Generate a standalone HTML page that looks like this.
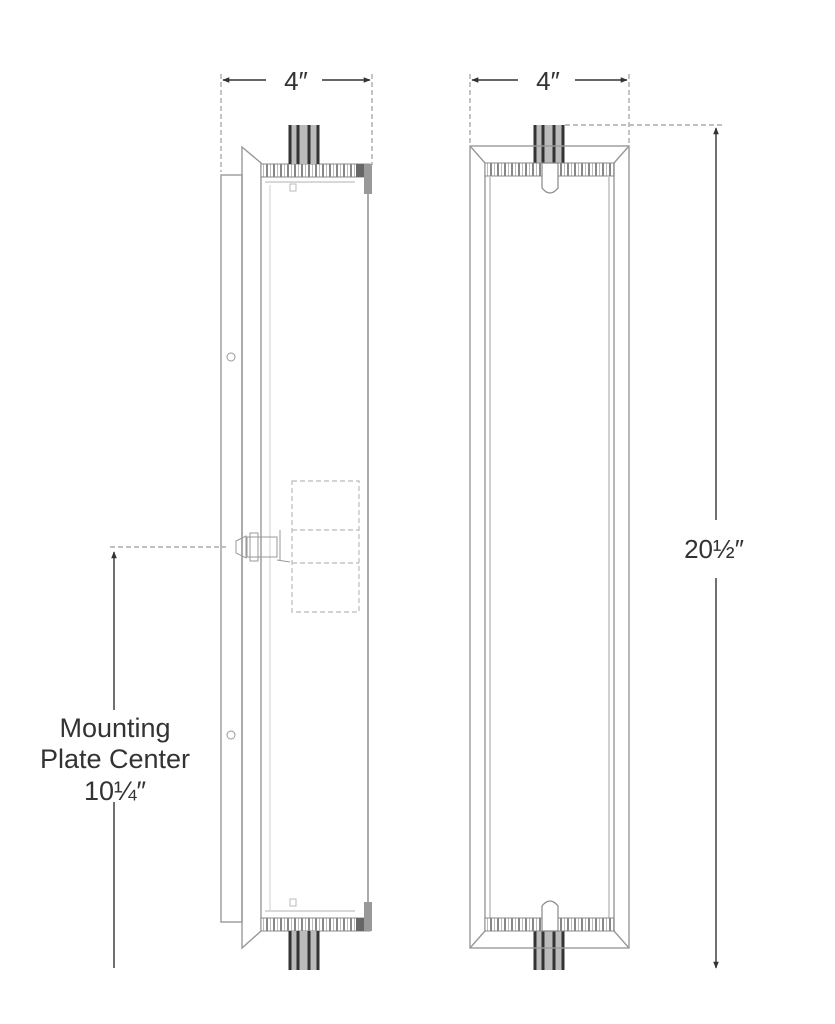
<!DOCTYPE html>
<html><head><meta charset="utf-8"><style>
html,body{margin:0;padding:0;background:#fff;}
svg{display:block;}
text{font-family:"Liberation Sans",sans-serif;fill:#333;}
</style></head><body>
<svg width="835" height="1024" viewBox="0 0 835 1024" xmlns="http://www.w3.org/2000/svg">
<defs>
<pattern id="rib" x="0" y="0" width="7" height="20" patternUnits="userSpaceOnUse">
<rect width="7" height="20" fill="#fff"/>
<rect x="0" width="2" height="20" fill="#888"/>
<rect x="4" width="1" height="20" fill="#bbb"/>
</pattern>
<marker id="ar" viewBox="0 0 10 10" refX="9" refY="5" markerWidth="10" markerHeight="7" orient="auto-start-reverse" markerUnits="userSpaceOnUse"><path d="M0,1 L10,5 L0,9z" fill="#333"/></marker>
</defs>
<g fill="none" stroke="#999" stroke-width="1.4">
<g stroke-dasharray="5,3" stroke="#aaa">
<line x1="221" y1="74" x2="221" y2="172"/>
<line x1="372" y1="74" x2="372" y2="165"/>
<line x1="110" y1="547" x2="226" y2="547"/>
</g>
<line x1="223" y1="80" x2="266" y2="80" stroke="#333" marker-start="url(#ar)"/>
<line x1="322" y1="80" x2="370" y2="80" stroke="#333" marker-end="url(#ar)"/>
<line x1="114" y1="552" x2="114" y2="710" stroke="#333" marker-start="url(#ar)"/>
<line x1="114" y1="802" x2="114" y2="968" stroke="#333"/>
<rect x="221" y="175" width="21" height="747"/>
<path d="M242,147 L261,163 L261,931 L242,948 Z"/>
<circle cx="231" cy="357" r="4" stroke-width="1"/>
<circle cx="231" cy="735" r="4" stroke-width="1"/>
<line x1="368" y1="177" x2="368" y2="918" stroke="#888"/>
<line x1="265" y1="182" x2="355" y2="182" stroke="#ccc"/>
<line x1="265" y1="911" x2="355" y2="911" stroke="#ccc"/>
<line x1="270" y1="185" x2="270" y2="910" stroke="#ddd"/>
<rect x="290" y="184" width="6" height="7" stroke="#bbb" stroke-width="1"/>
<rect x="290" y="899" width="6" height="7" stroke="#bbb" stroke-width="1"/>
<g stroke-dasharray="5,3" stroke="#bbb" stroke-width="1.2">
<rect x="292" y="481" width="67" height="131"/>
<line x1="292" y1="530" x2="359" y2="530"/>
<line x1="292" y1="563" x2="359" y2="563"/>
</g>
<g stroke="#999" stroke-width="1">
<rect x="247" y="537" width="30" height="20"/>
<rect x="250" y="533" width="8" height="28"/>
<path d="M236,541 L246,536 L246,558 L236,553 Z"/>
<line x1="280" y1="530" x2="280" y2="560"/>
<path d="M277,560 L290,562"/>
</g>
</g>
<rect x="261" y="164" width="109" height="13" fill="url(#rib)" stroke="#888"/>
<rect x="356" y="164" width="14" height="13" fill="#666"/>
<rect x="364" y="164" width="8" height="30" fill="#999"/>
<rect x="261" y="918" width="109" height="13" fill="url(#rib)" stroke="#888"/>
<rect x="356" y="918" width="14" height="13" fill="#666"/>
<rect x="364" y="902" width="8" height="29" fill="#999"/>
<g fill="#bbb">
<rect x="289" y="125" width="30" height="39"/>
<rect x="289" y="931" width="30" height="39"/>
<rect x="534" y="125" width="30" height="38"/>
<rect x="534" y="931" width="30" height="39"/>
</g>
<g stroke="#333" stroke-width="3">
<line x1="290" y1="125" x2="290" y2="164"/><line x1="298" y1="125" x2="298" y2="164"/><line x1="309" y1="125" x2="309" y2="164"/><line x1="318" y1="125" x2="318" y2="164"/>
<line x1="290" y1="931" x2="290" y2="970"/><line x1="298" y1="931" x2="298" y2="970"/><line x1="309" y1="931" x2="309" y2="970"/><line x1="318" y1="931" x2="318" y2="970"/>
<line x1="535" y1="125" x2="535" y2="163"/><line x1="543" y1="125" x2="543" y2="163"/><line x1="554" y1="125" x2="554" y2="163"/><line x1="563" y1="125" x2="563" y2="163"/>
<line x1="535" y1="931" x2="535" y2="970"/><line x1="543" y1="931" x2="543" y2="970"/><line x1="554" y1="931" x2="554" y2="970"/><line x1="563" y1="931" x2="563" y2="970"/>
</g>
<g fill="none" stroke="#999" stroke-width="1.4">
<g stroke-dasharray="5,3" stroke="#aaa">
<line x1="470" y1="74" x2="470" y2="146"/>
<line x1="629" y1="74" x2="629" y2="146"/>
<line x1="565" y1="125" x2="722" y2="125"/>
</g>
<line x1="472" y1="80" x2="518" y2="80" stroke="#333" marker-start="url(#ar)"/>
<line x1="575" y1="80" x2="627" y2="80" stroke="#333" marker-end="url(#ar)"/>
<line x1="716" y1="128" x2="716" y2="520" stroke="#333" marker-start="url(#ar)"/>
<line x1="716" y1="578" x2="716" y2="968" stroke="#333" marker-end="url(#ar)"/>
<rect x="470" y="146" width="159" height="802"/>
<line x1="470" y1="146" x2="485" y2="163"/><line x1="629" y1="146" x2="614" y2="163"/>
<line x1="470" y1="948" x2="485" y2="931"/><line x1="629" y1="948" x2="614" y2="931"/>
<line x1="485" y1="163" x2="485" y2="931"/>
<line x1="490" y1="177" x2="490" y2="918" stroke="#bbb"/>
<line x1="609" y1="177" x2="609" y2="918" stroke="#bbb"/>
<line x1="614" y1="163" x2="614" y2="931"/>
</g>
<rect x="485" y="163" width="129" height="13" fill="url(#rib)" stroke="#888"/>
<rect x="485" y="918" width="129" height="13" fill="url(#rib)" stroke="#888"/>
<path d="M542,163 L542,188 Q550,198 558,188 L558,163 Z" fill="#fff" stroke="#888" stroke-width="1.2"/>
<path d="M542,931 L542,906 Q550,896 558,906 L558,931 Z" fill="#fff" stroke="#888" stroke-width="1.2"/>
<text x="296" y="90" font-size="26" text-anchor="middle">4″</text>
<text x="548" y="90" font-size="26" text-anchor="middle">4″</text>
<text x="714" y="558" font-size="26" text-anchor="middle">20½″</text>
<text x="115" y="737" font-size="27" text-anchor="middle">Mounting</text>
<text x="115" y="768" font-size="27" text-anchor="middle">Plate Center</text>
<text x="115" y="800" font-size="27" text-anchor="middle">10¼″</text>
</svg>
</body></html>
